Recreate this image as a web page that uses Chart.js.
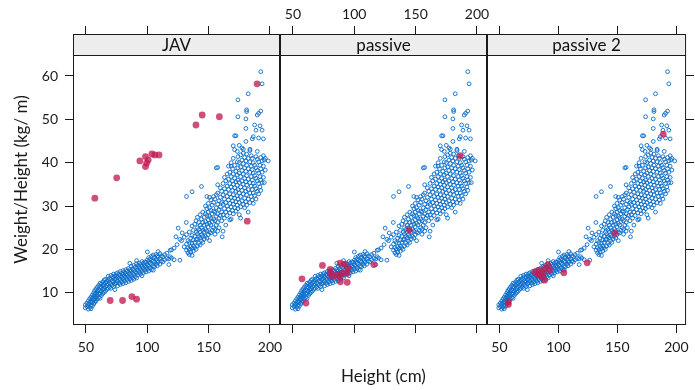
<!DOCTYPE html>
<html>
<head>
<meta charset="utf-8">
<script src="https://cdn.jsdelivr.net/npm/chart.js@4.4.1/dist/chart.umd.min.js"></script>
<style>
    body { margin: 0; background: #fff; }
    .wrap { position: relative; width: 695px; height: 390px; }
    .wrap canvas { position: absolute; left: 0; top: 0; }
</style>
</head>
<body>
<div class="wrap">
    <canvas id="panel0" width="695" height="390"></canvas>
    <canvas id="panel1" width="695" height="390"></canvas>
    <canvas id="panel2" width="695" height="390"></canvas>
</div>
<script>
let heightTicks = [50, 100, 150, 200];
let ratioTicks = [10, 20, 30, 40, 50, 60];
let panelNames = ["JAV", "passive", "passive 2"];

// reference population: [height, ratio, ratio, ...]
let refCloud = [
    [49.5, 6.5, 7.2], [50.8, 6.8, 7.6], [52.0, 6.2, 7.3, 8.1], [53.1, 6.6, 7.7, 8.6],
    [54.2, 6.3, 7.1, 8.0, 9.0], [55.3, 6.9, 7.8, 8.7, 9.5], [56.4, 7.4, 8.3, 9.1, 10.0],
    [57.2, 7.8, 8.7, 9.6, 10.5], [58.3, 8.1, 9.0, 9.9, 10.9], [59.4, 8.6, 9.5, 10.4, 11.3],
    [60.5, 8.9, 9.8, 10.7, 11.7], [61.6, 8.7, 9.7, 10.5, 11.4, 12.2], [62.7, 9.4, 10.3, 11.1, 12.0],
    [63.8, 9.8, 10.7, 11.6, 12.5], [64.9, 10.1, 11.0, 11.9, 12.9], [66.0, 10.4, 11.4, 12.3, 13.1],
    [67.1, 10.8, 11.7, 12.6], [68.2, 11.0, 12.0, 13.0, 13.8], [69.3, 11.3, 12.3, 13.3],
    [70.4, 11.0, 12.1, 13.1, 14.0], [71.5, 11.7, 12.7, 13.7], [72.6, 11.4, 12.5, 13.5, 14.3],
    [73.7, 10.7, 12.0, 13.0, 13.9], [74.8, 12.3, 13.3, 14.4], [75.9, 11.6, 12.7, 13.7, 14.6],
    [77.0, 12.2, 13.3, 14.2], [78.1, 11.9, 13.0, 14.0, 14.9], [79.2, 12.5, 13.6, 14.5],
    [80.3, 12.1, 13.2, 14.2, 15.1], [81.4, 12.7, 13.8, 14.7], [82.5, 12.3, 13.5, 14.4, 15.3],
    [83.6, 13.0, 14.0, 15.0], [84.7, 12.6, 13.7, 14.7, 15.6], [85.8, 13.2, 14.3, 15.3, 16.8],
    [86.9, 12.8, 13.9, 15.0, 16.1], [88.0, 13.4, 14.5, 15.5], [89.1, 13.1, 14.2, 15.2, 16.3],
    [90.2, 13.7, 14.8, 15.9], [91.3, 13.4, 14.5, 15.6, 16.7, 17.4], [92.4, 14.1, 15.2, 16.3],
    [93.5, 14.7, 15.8, 16.8], [94.6, 14.3, 15.4, 16.5], [95.7, 13.9, 15.0, 16.1, 17.2],
    [96.8, 14.6, 15.7, 16.8], [97.9, 15.2, 16.2, 17.1], [99.0, 14.8, 15.9, 17.0],
    [100.1, 15.4, 16.4, 17.5, 19.4], [101.2, 15.0, 16.1, 17.2, 18.1], [102.3, 15.7, 16.8, 17.8],
    [103.4, 15.3, 16.5, 17.5, 18.4], [104.9, 15.2, 16.2, 17.3, 18.7], [106.0, 16.0, 17.1, 18.2],
    [107.1, 16.6, 17.7, 18.8], [108.2, 16.2, 17.4, 18.5], [108.9, 17.0, 18.2, 19.5],
    [110.4, 16.6, 17.8, 19.0], [111.5, 17.3, 18.5], [112.8, 17.1, 18.3], [114.2, 17.6, 18.8],
    [116.0, 17.9, 19.1], [117.6, 16.5, 17.8], [118.7, 18.3, 19.8], [119.8, 18.0, 19.9],
    [121.9, 17.6, 20.3], [123.4, 22.9], [124.3, 21.1], [125.2, 24.9], [126.6, 17.5, 22.3],
    [128.5, 23.8], [128.0, 22.0], [130.1, 20.6, 22.8], [131.8, 26.2],
    [132.0, 19.8, 21.2, 23.4, 32.2], [133.2, 19.2, 20.4, 22.0], [134.3, 18.8, 20.0, 21.6, 24.0],
    [135.4, 19.4, 20.6, 22.6], [136.5, 18.6, 20.2, 21.4, 23.2, 25.4, 33.3],
    [137.6, 19.6, 20.8, 22.2, 24.4], [138.7, 20.4, 21.6, 23.0, 25.8], [139.8, 20.0, 22.2, 24.0, 26.6],
    [140.9, 20.8, 22.4, 23.6, 25.0, 27.4], [142.0, 21.4, 23.0, 24.6, 26.2],
    [143.1, 21.0, 22.6, 24.0, 25.6, 28.0], [144.2, 22.0, 23.4, 25.0, 27.0, 34.5],
    [145.3, 21.6, 23.0, 24.4, 26.2, 28.6], [146.4, 22.4, 24.0, 25.6, 27.4],
    [147.5, 23.0, 24.6, 26.4, 28.2, 30.0], [148.6, 22.6, 24.2, 25.8, 27.8, 29.4, 32.2],
    [149.7, 23.4, 25.2, 26.8, 28.6, 30.6], [150.8, 22.0, 24.0, 26.0, 27.6, 29.6, 32.0],
    [151.9, 23.8, 25.6, 27.2, 29.0, 31.4], [153.0, 24.4, 26.4, 28.2, 30.2],
    [154.1, 25.0, 27.0, 28.8, 30.8, 32.2], [155.2, 23.5, 24.6, 26.6, 28.6, 31.6],
    [156.3, 25.6, 27.6, 29.6, 32.6, 38.8], [157.4, 24.2, 26.2, 28.2, 30.4, 33.0, 38.9, 34.9],
    [158.5, 25.0, 27.2, 29.2, 31.2], [159.6, 27.8, 29.8, 32.0, 34.2], [160.7, 26.6, 28.6, 30.8, 33.4],
    [161.1, 22.9], [161.8, 28.0, 30.4, 32.6, 35.2, 24.2], [162.9, 27.2, 29.4, 31.6, 34.0, 36.6],
    [164.0, 28.6, 30.8, 33.2, 35.8, 25.6], [165.1, 27.8, 30.0, 32.2, 34.6, 37.4],
    [166.2, 29.2, 31.4, 33.8, 36.2, 39.2], [167.3, 26.8, 28.4, 30.6, 32.8, 35.2, 37.8],
    [168.4, 27.0, 29.8, 32.0, 34.4, 36.8, 40.0, 39.2], [169.5, 29.0, 31.2, 33.6, 35.8, 38.6],
    [170.1, 28.2, 30.4, 32.6, 35.0, 37.4, 41.0, 43.9], [171.2, 29.6, 31.8, 34.2, 36.4, 39.4, 43.0, 46.2],
    [172.3, 28.8, 31.0, 33.4, 35.6, 38.0, 46.2], [173.4, 30.2, 32.4, 34.8, 37.2, 40.2, 42.6],
    [173.9, 29.4, 31.6, 33.8, 36.0, 38.8, 41.4, 54.5, 50.6], [175.0, 28.0, 30.8, 33.0, 35.4, 37.6, 40.0, 44.0],
    [176.1, 27.2, 29.8, 32.2, 34.4, 36.8, 39.0, 41.8], [177.2, 31.2, 33.6, 35.8, 38.2, 40.6, 43.4],
    [178.3, 30.4, 32.8, 35.0, 37.4, 39.8, 42.2, 43.1], [179.4, 29.6, 31.8, 34.2, 36.4, 38.8, 41.2],
    [180.4, 31.0, 33.4, 35.6, 38.0, 40.4, 44.9, 50.1, 47.9], [181.0, 30.2, 32.6, 34.8, 37.0, 39.4, 42.0, 52.2, 51.8],
    [182.3, 28.6, 31.6, 33.8, 36.2, 38.6, 41.0, 55.9], [183.7, 30.8, 33.0, 35.4, 37.8, 40.2, 42.8, 43.1],
    [184.8, 32.2, 34.6, 36.8, 39.2, 41.6], [185.6, 31.4, 33.8, 36.0, 38.4, 41.0, 45.5],
    [186.4, 30.6, 33.0, 35.2, 37.6, 40.0, 46.0], [187.5, 32.4, 34.6, 37.0, 39.4, 48.7],
    [188.6, 31.6, 34.0, 36.4, 38.8, 41.4, 47.5], [189.7, 33.4, 35.8, 38.2, 40.8, 42.6, 51.0],
    [190.8, 32.8, 35.2, 37.6, 40.2, 45.7, 51.4], [191.9, 34.4, 36.8, 39.4, 48.5],
    [192.5, 33.6, 36.0, 38.6, 41.2, 61.0, 51.9], [193.6, 35.4, 37.8, 40.4, 47.5, 58.2],
    [194.7, 36.6, 39.2, 41.6, 45.5], [195.4, 35.4, 40.6], [196.2, 38.3, 41.0], [198.6, 40.4]
];

let javPoints = [
    [57.3, 31.8], [75.1, 36.5], [94.0, 40.4], [98.6, 41.4], [100.8, 40.6], [99.5, 39.9], [98.6, 39.1],
    [103.8, 42.0], [106.2, 41.8], [109.6, 41.8], [139.7, 48.7], [144.8, 51.0], [158.8, 50.6],
    [189.5, 58.2], [181.5, 26.5], [69.8, 8.2], [79.9, 8.2], [87.5, 9.1], [91.3, 8.5]
];
let passivePoints = [
    [57.4, 13.2], [60.7, 7.6], [74.1, 16.3], [80.4, 15.4], [80.4, 14.6], [81.8, 13.7], [85.9, 14.2],
    [88.0, 13.7], [88.5, 16.8], [92.1, 16.6], [90.4, 14.5], [94.3, 14.5], [88.7, 12.5], [94.3, 12.4],
    [94.8, 15.7], [116.0, 16.5], [144.8, 24.5], [186.3, 41.6]
];
let passive2Points = [
    [57.6, 7.9], [57.6, 7.3], [80.2, 14.8], [83.4, 15.2], [86.9, 14.5], [91.0, 16.4], [92.4, 15.2],
    [88.3, 12.9], [86.1, 13.7], [82.8, 14.1], [88.3, 15.6], [104.6, 14.6], [124.4, 16.9],
    [148.0, 23.7], [188.9, 46.6]
];

let panelLeft = [73, 280, 487];
let panelRight = [280, 487, 693];
let stripHeight = 21;
let fontName = "Lato";
let blue = "rgba(10, 108, 200, 0.9)";
let red = "rgba(194, 28, 84, 0.78)";

let refData = [];
refCloud.forEach(function (row) {
    for (let i = 1; i < row.length; i++) {
        refData.push({ x: row[0], y: row[i] });
    }
});

// strip on top of each panel + frame
let panelFrame = {
    id: "panelFrame",
    afterDraw: function (chart, args, opts) {
        let ctx = chart.ctx;
        let a = chart.chartArea;
        ctx.save();
        ctx.fillStyle = "#ededed";
        ctx.fillRect(a.left, a.top, a.right - a.left, stripHeight);
        ctx.strokeStyle = "#1a1a1a";
        ctx.lineWidth = 1;
        ctx.strokeRect(a.left + 0.5, a.top + 0.5, a.right - a.left - 1, a.bottom - a.top - 1);
        ctx.beginPath();
        ctx.moveTo(a.left, a.top + stripHeight + 0.5);
        ctx.lineTo(a.right, a.top + stripHeight + 0.5);
        ctx.stroke();
        ctx.fillStyle = "#111";
        ctx.font = "17px " + fontName;
        ctx.textAlign = "center";
        ctx.textBaseline = "middle";
        ctx.fillText(opts.title, (a.left + a.right) / 2, a.top + stripHeight / 2 + 1);
        ctx.restore();
    }
};

function tickGrid() {
    return { drawOnChartArea: false, drawTicks: true, tickLength: 8, color: "#1a1a1a" };
}

function setPanel(idx, points) {
    let first = idx === 0;
    let last = idx === 2;
    let labelFont = { family: fontName, size: 14 };

    new Chart(document.getElementById("panel" + idx), {
        type: "scatter",
        data: {
            datasets: [{
                data: points.map(function (p) { return { x: p[0], y: p[1] }; }),
                pointRadius: 3.4,
                pointBackgroundColor: red,
                pointBorderWidth: 0
            }, {
                data: refData,
                pointRadius: 1.9,
                pointBackgroundColor: "rgba(0,0,0,0)",
                pointBorderColor: blue,
                pointBorderWidth: 1
            }]
        },
        options: {
            responsive: false,
            animation: false,
            events: [],
            layout: {
                padding: { left: first ? 0 : panelLeft[idx], right: last ? 0 : 695 - panelRight[idx], top: 0, bottom: 0 }
            },
            plugins: {
                legend: { display: false },
                tooltip: { enabled: false },
                panelFrame: { title: panelNames[idx] }
            },
            scales: {
                x: {
                    type: "linear", position: "bottom", min: 39.5, max: 208.2,
                    afterBuildTicks: function (s) { s.ticks = heightTicks.map(function (v) { return { value: v }; }); },
                    afterFit: function (s) { s.height = 65; },
                    grid: tickGrid(),
                    border: { display: false },
                    ticks: {
                        color: "#1a1a1a", font: labelFont, padding: 6, maxRotation: 0, autoSkip: false,
                        callback: function (v) { return idx === 1 ? "" : v; }
                    },
                    title: {
                        display: idx === 1, text: "Height (cm)", color: "#1a1a1a",
                        font: { family: fontName, size: 17 }, padding: { top: 0, bottom: 3 }
                    }
                },
                xTop: {
                    type: "linear", position: "top", min: 39.5, max: 208.2,
                    afterBuildTicks: function (s) { s.ticks = heightTicks.map(function (v) { return { value: v }; }); },
                    afterFit: function (s) { s.height = 34; },
                    grid: tickGrid(),
                    border: { display: false },
                    ticks: {
                        color: "#1a1a1a", font: labelFont, padding: 3, maxRotation: 0, autoSkip: false,
                        callback: function (v) { return idx === 1 ? v : ""; }
                    }
                },
                y: {
                    type: "linear", position: "left", min: 2.55, max: 69.69,
                    display: first,
                    afterBuildTicks: function (s) { s.ticks = ratioTicks.map(function (v) { return { value: v }; }); },
                    afterFit: function (s) { s.width = first ? 73 : 0; },
                    grid: tickGrid(),
                    border: { display: false },
                    ticks: { color: "#1a1a1a", font: labelFont, padding: 7 },
                    title: {
                        display: true, text: "Weight/Height (kg/ m)", color: "#1a1a1a",
                        font: { family: fontName, size: 17 }, padding: { top: 11, bottom: 0 }
                    }
                },
                yRight: {
                    type: "linear", position: "right", min: 2.55, max: 69.69,
                    display: last,
                    afterBuildTicks: function (s) { s.ticks = ratioTicks.map(function (v) { return { value: v }; }); },
                    afterFit: function (s) { s.width = last ? 2 : 0; },
                    grid: tickGrid(),
                    border: { display: false },
                    ticks: { callback: function () { return ""; } }
                }
            }
        },
        plugins: [panelFrame]
    });
}

setPanel(0, javPoints);
setPanel(1, passivePoints);
setPanel(2, passive2Points);
</script>
</body>
</html>
